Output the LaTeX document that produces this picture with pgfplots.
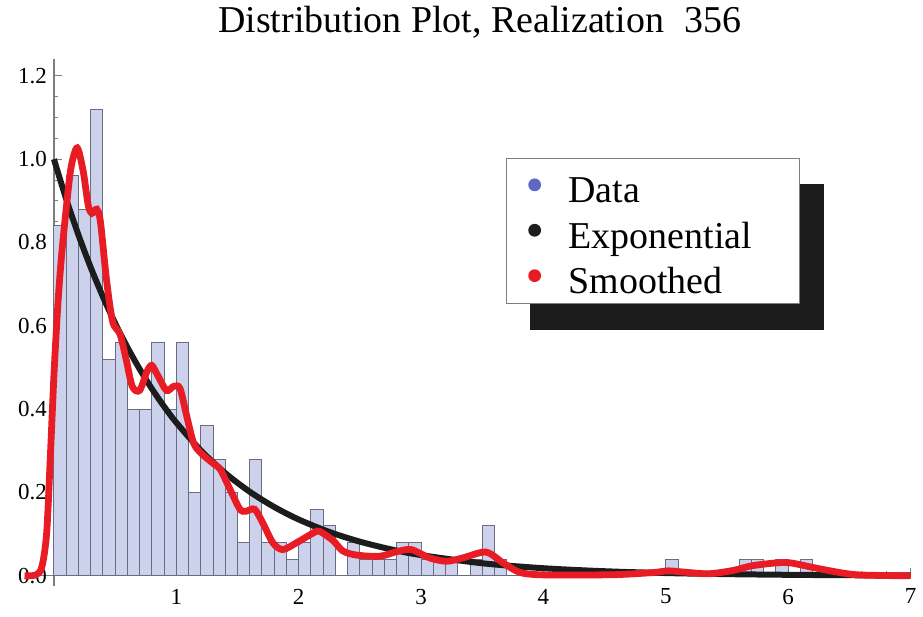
\documentclass[border=0pt]{standalone}
\usepackage{fontspec}
\setmainfont{Liberation Serif}
\usepackage{pgfplots}
\pgfplotsset{compat=1.18}
\usetikzlibrary{backgrounds}

\definecolor{barfill}{RGB}{205,210,236}
\definecolor{baredge}{RGB}{105,108,130}
\definecolor{smoothred}{RGB}{232,28,36}
\definecolor{expblack}{RGB}{28,28,28}
\definecolor{datablue}{RGB}{92,104,196}
\definecolor{axisgray}{RGB}{125,125,125}

% histogram: left bin edge, density (bin width 0.1)
\pgfplotstableread{
x y
0.0 0.84
0.1 0.96
0.2 0.88
0.3 1.12
0.4 0.52
0.5 0.56
0.6 0.40
0.7 0.40
0.8 0.56
0.9 0.40
1.0 0.56
1.1 0.20
1.2 0.36
1.3 0.28
1.4 0.20
1.5 0.08
1.6 0.28
1.7 0.08
1.8 0.08
1.9 0.04
2.0 0.08
2.1 0.16
2.2 0.12
2.3 0.00
2.4 0.08
2.5 0.04
2.6 0.04
2.7 0.04
2.8 0.08
2.9 0.08
3.0 0.04
3.1 0.04
3.2 0.04
3.3 0.00
3.4 0.04
3.5 0.12
3.6 0.04
3.7 0.00
5.0 0.04
5.1 0.00
5.6 0.04
5.7 0.04
5.8 0.00
5.9 0.04
6.0 0.00
6.1 0.04
6.2 0.00
}\histdata

% fitted exponential density, rate 1
\pgfplotstableread{
x y
0.0 1.0000
0.1 0.9048
0.2 0.8187
0.3 0.7408
0.4 0.6703
0.5 0.6065
0.6 0.5488
0.7 0.4966
0.8 0.4493
0.9 0.4066
1.0 0.3679
1.2 0.3012
1.4 0.2466
1.6 0.2019
1.8 0.1653
2.0 0.1353
2.25 0.1054
2.5 0.0821
2.75 0.0639
3.0 0.0498
3.5 0.0302
4.0 0.0183
4.5 0.0111
5.0 0.0067
5.5 0.0041
6.0 0.0025
6.5 0.0015
7.0 0.0009
}\expdata

% kernel-smoothed density estimate
\pgfplotstableread{
x y
-0.24 0.000
-0.15 0.002
-0.10 0.020
-0.06 0.100
-0.03 0.280
0.00 0.480
0.03 0.640
0.06 0.760
0.10 0.880
0.14 0.980
0.19 1.027
0.24 0.970
0.28 0.890
0.31 0.870
0.35 0.880
0.38 0.850
0.43 0.710
0.48 0.610
0.54 0.580
0.59 0.520
0.64 0.455
0.70 0.445
0.76 0.490
0.80 0.505
0.85 0.480
0.92 0.445
0.98 0.455
1.03 0.450
1.08 0.390
1.14 0.320
1.20 0.295
1.30 0.270
1.36 0.255
1.44 0.207
1.52 0.160
1.57 0.155
1.64 0.160
1.71 0.125
1.79 0.079
1.87 0.063
1.98 0.079
2.12 0.103
2.17 0.107
2.28 0.085
2.36 0.060
2.47 0.050
2.66 0.047
2.80 0.058
2.92 0.063
3.07 0.043
3.21 0.035
3.34 0.043
3.53 0.057
3.67 0.031
3.80 0.009
3.94 0.003
4.20 0.002
4.60 0.003
4.90 0.008
5.02 0.012
5.15 0.009
5.35 0.005
5.55 0.013
5.70 0.024
5.90 0.031
6.02 0.031
6.22 0.019
6.44 0.007
6.60 0.002
7.00 0.000
}\smoothdata

\newcommand{\legstrut}{\rule[-5pt]{0pt}{23.5pt}}

\begin{document}
\begin{tikzpicture}
\begin{axis}[
  scale only axis, width=443.8pt, height=264pt,
  xmin=-0.24, xmax=7, ymin=-0.025, ymax=1.24,
  axis lines=middle,
  axis line style={-, draw=axisgray, line width=0.6pt},
  clip=false,
  xtick={1,2,3,4,5,6,7},
  minor xtick={0.2,0.4,0.6,0.8,1.2,1.4,1.6,1.8,2.2,2.4,2.6,2.8,3.2,3.4,3.6,3.8,4.2,4.4,4.6,4.8,5.2,5.4,5.6,5.8,6.2,6.4,6.6,6.8},
  ytick={0,0.2,0.4,0.6,0.8,1.0,1.2},
  minor ytick={0.05,0.1,0.15,0.25,0.3,0.35,0.45,0.5,0.55,0.65,0.7,0.75,0.85,0.9,0.95,1.05,1.1,1.15},
  hide obscured x ticks=false, hide obscured y ticks=false,
  tick align=inside,
  major tick length=4pt, minor tick length=2.2pt,
  every tick/.style={axisgray, line width=0.5pt},
  tick label style={font=\fontsize{11.5}{13}\selectfont, /pgf/number format/assume math mode=true},
  yticklabel style={/pgf/number format/.cd, fixed, fixed zerofill, precision=1},
  xticklabel style={yshift=-3pt},
  title={Distribution Plot, Realization\hspace{0.55em}356},
  title style={font=\fontsize{19}{23}\selectfont, at={(axis description cs:0.514,1.027)}, anchor=base},
  legend style={name=leg, at={(axis description cs:0.5435,0.812)}, anchor=north west,
    draw=axisgray, line width=0.6pt, fill=white,
    inner xsep=0pt, inner ysep=3.5pt, row sep=2.75pt,
    font=\fontsize{19}{23}\selectfont,
    nodes={inner sep=0pt}},
  legend cell align=left,
]
\addplot[ybar interval, fill=barfill, draw=baredge, line width=0.5pt, forget plot] table[x=x, y=y] {\histdata};
\addplot[expblack, line width=3pt, smooth, forget plot] table[x=x, y=y] {\expdata};
\addplot[smoothred, line width=3.4pt, smooth, tension=0.5, forget plot] table[x=x, y=y] {\smoothdata};

\addlegendimage{legend image code/.code={\path[draw=none] (0pt,0pt) -- (31pt,0pt); \fill[datablue, draw=none] (14pt,0.5pt) circle (3.2pt);}}
\addlegendentry{\legstrut\makebox[115.5pt][l]{Data}}
\addlegendimage{legend image code/.code={\path[draw=none] (0pt,0pt) -- (31pt,0pt); \fill[expblack, draw=none] (14pt,0.5pt) circle (3.2pt);}}
\addlegendentry{\legstrut\makebox[115.5pt][l]{Exponential}}
\addlegendimage{legend image code/.code={\path[draw=none] (0pt,0pt) -- (31pt,0pt); \fill[smoothred, draw=none] (14pt,0.5pt) circle (3.2pt);}}
\addlegendentry{\legstrut\makebox[115.5pt][l]{Smoothed}}

% page frame
\path (axis cs:-0.4405,1.3725) rectangle (axis cs:7.088,-0.0982);
\end{axis}
% offset shadow behind the legend box
\begin{scope}[on background layer]
\fill[expblack] ([xshift=12pt,yshift=-13pt]leg.south west) rectangle ([xshift=12pt,yshift=-13pt]leg.north east);
\end{scope}
\end{tikzpicture}
\end{document}
